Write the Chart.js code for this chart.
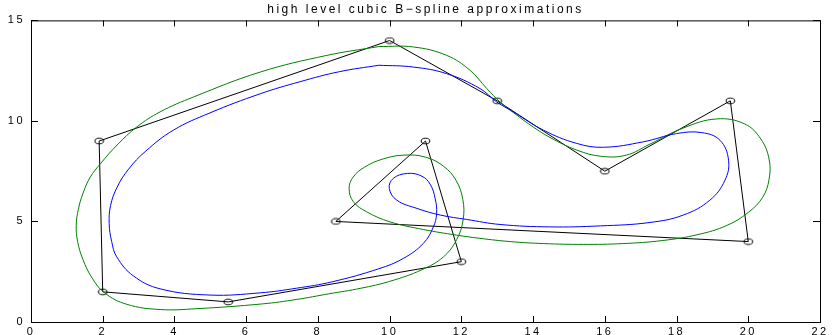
<!DOCTYPE html>
<html>
<head>
<meta charset="utf-8">
<script src="https://cdn.jsdelivr.net/npm/chart.js@4"></script>
<style>
  html, body { margin: 0; padding: 0; background: #fff; }
  #wrap { width: 834px; height: 335px; }
</style>
</head>
<body>
<div id="wrap"><canvas id="chart" width="834" height="335"></canvas></div>
<script>
// axis ticks
const xTicks = [0, 2, 4, 6, 8, 10, 12, 14, 16, 18, 20, 22];
const yTicks = [0, 5, 10, 15];

// control polygon (closed)
const controlX = [1.9, 10, 13, 16, 19.5, 20, 8.5, 11, 12, 5.5, 2, 1.9];
const controlY = [9, 14, 11, 7.5, 11, 4, 5, 9, 3, 1, 1.5, 9];

// blue approximation
const blueX = [9.7, 10.66, 11.59, 12.52, 12.99, 13.45, 14.29, 15.22, 15.96, 17.07, 18.0, 18.7, 19.21, 19.45, 19.35, 18.93, 18.19, 17.26, 15.87, 14.47,
  13.08, 12.15, 11.41, 10.76, 10.2, 9.99, 10.1, 10.5, 10.9, 11.13, 11.27, 11.31, 11.22, 10.94, 10.38, 9.7, 8.4, 7.4, 6.39, 4.99,
  3.6, 2.85, 2.39, 2.25, 2.18, 2.22, 2.4, 2.72, 3.2, 3.97, 4.99, 6.39, 7.5, 8.6, 9.7];
const blueY = [12.77, 12.68, 12.35, 11.61, 10.94, 10.45, 9.54, 8.88, 8.69, 8.96, 9.37, 9.42, 9.04, 8.05, 7.05, 6.06, 5.32, 4.95, 4.78, 4.73,
  4.85, 5.1, 5.32, 5.65, 6.06, 6.64, 7.14, 7.39, 7.25, 6.85, 6.14, 5.4, 4.73, 3.91, 3.16, 2.65, 2.0, 1.68, 1.45, 1.34,
  1.65, 2.3, 3.24, 4.0, 4.9, 5.8, 6.7, 7.6, 8.5, 9.54, 10.4, 11.35, 11.95, 12.45, 12.77];

// green approximation
const greenX = [9.7, 10.66, 11.59, 12.24, 12.71, 13.08, 13.5, 14.0, 14.5, 15.22, 15.9, 16.6, 17.26, 18.19, 19.12, 19.9, 20.35, 20.58, 20.58, 20.4,
  20.0, 19.4, 18.6, 17.6, 16.5, 15.4, 14.3, 13.36, 12.52, 11.87, 10.94, 10.01, 9.36, 8.99, 8.87, 8.98, 9.3, 9.8, 10.4, 11.0,
  11.5, 11.85, 12.04, 12.05, 11.87, 11.5, 10.9, 10.0, 9.2, 8.3, 7.4, 6.45, 4.6, 3.6, 2.67, 2.05, 1.7, 1.45, 1.3, 1.26,
  1.32, 1.45, 1.65, 1.95, 2.4, 2.95, 3.6, 4.53, 6.39, 8.25, 9.7];
const greenY = [13.7, 13.68, 13.26, 12.52, 11.61, 10.94, 10.35, 9.7, 9.15, 8.55, 8.24, 8.3, 8.85, 9.65, 10.1, 9.85, 9.1, 8.1, 7.1, 6.2,
  5.45, 4.8, 4.35, 4.05, 3.9, 3.86, 3.9, 4.0, 4.16, 4.32, 4.6, 4.98, 5.48, 5.98, 6.64, 7.2, 7.7, 8.1, 8.3, 8.2,
  7.75, 7.05, 6.1, 5.1, 4.1, 3.24, 2.6, 2.02, 1.68, 1.4, 1.12, 0.9, 0.66, 0.62, 0.88, 1.45, 2.2, 3.1, 4.0, 4.8,
  5.6, 6.4, 7.2, 7.9, 8.8, 9.7, 10.45, 11.19, 12.43, 13.26, 13.7];

const toPoints = (xs, ys) => xs.map((x, i) => ({ x: x, y: ys[i] }));

// small ellipse used as the marker of the control points
const marker = document.createElement('canvas');
marker.width = 11;
marker.height = 8;
const mctx = marker.getContext('2d');
mctx.strokeStyle = '#000';
mctx.lineWidth = 1;
mctx.beginPath();
mctx.ellipse(5.5, 4, 4.3, 2.8, 0, 0, Math.PI * 2);
mctx.stroke();

// the old screen font is widely spaced, so spread the letters a bit
const spacingPlugin = {
  id: 'spacing',
  beforeDraw(chart) {
    chart.ctx.letterSpacing = '2.5px';
  }
};

// box round the plot with inward tick marks on all four sides
const boxPlugin = {
  id: 'box',
  afterDatasetsDraw(chart) {
    const { ctx, chartArea: a, scales } = chart;
    ctx.save();
    ctx.strokeStyle = '#000';
    ctx.lineWidth = 1;
    ctx.strokeRect(a.left + 0.5, a.top + 0.5, a.right - a.left, a.bottom - a.top);
    ctx.beginPath();
    xTicks.forEach(v => {
      const px = Math.round(scales.x.getPixelForValue(v)) + 0.5;
      ctx.moveTo(px, a.bottom); ctx.lineTo(px, a.bottom - 6);
      ctx.moveTo(px, a.top); ctx.lineTo(px, a.top + 6);
    });
    yTicks.forEach(v => {
      const py = Math.round(scales.y.getPixelForValue(v)) + 0.5;
      ctx.moveTo(a.left, py); ctx.lineTo(a.left + 7, py);
      ctx.moveTo(a.right, py); ctx.lineTo(a.right - 7, py);
    });
    ctx.stroke();
    ctx.restore();
  }
};

const font = { family: '"Liberation Sans", Arial, Helvetica, sans-serif', size: 11 };

new Chart(document.getElementById('chart'), {
  type: 'scatter',
  data: {
    datasets: [
      {
        data: toPoints(blueX, blueY),
        showLine: true,
        borderColor: '#0000ff',
        borderWidth: 1,
        tension: 0.4,
        pointRadius: 0,
      },
      {
        data: toPoints(greenX, greenY),
        showLine: true,
        borderColor: '#008000',
        borderWidth: 1,
        tension: 0.4,
        pointRadius: 0,
      },
      {
        data: toPoints(controlX, controlY),
        showLine: true,
        borderColor: '#000',
        borderWidth: 1,
        tension: 0,
        pointStyle: marker,
        // the polygon is closed, so skip the marker on the repeated last point
        pointRadius: controlX.map((v, i) => (i === controlX.length - 1 ? 0 : 3)),
      },
    ],
  },
  plugins: [spacingPlugin, boxPlugin],
  options: {
    responsive: false,
    animation: false,
    layout: { padding: { left: 0, right: 14, top: 0, bottom: 0 } },
    plugins: {
      legend: { display: false },
      tooltip: { enabled: false },
      title: {
        display: true,
        text: 'high level cubic B\u2212spline approximations',
        color: '#000',
        font: { family: font.family, size: 12, weight: 'normal' },
        fullSize: false,
        padding: { top: 2, bottom: 4 },
      },
    },
    scales: {
      x: {
        type: 'linear',
        min: 0,
        max: 22,
        grid: { display: false, drawTicks: false, tickLength: 0 },
        border: { display: false },
        afterBuildTicks: s => { s.ticks = xTicks.map(v => ({ value: v })); },
        afterFit: s => { s.height = 13; },
        ticks: { color: '#000', font: font, padding: 3, maxRotation: 0, autoSkip: false },
      },
      y: {
        type: 'linear',
        min: 0,
        max: 15,
        grid: { display: false, drawTicks: false, tickLength: 0 },
        border: { display: false },
        afterBuildTicks: s => { s.ticks = yTicks.map(v => ({ value: v })); },
        afterFit: s => { s.width = 31; },
        ticks: { color: '#000', font: font, padding: 6 },
      },
    },
  },
});
</script>
</body>
</html>
